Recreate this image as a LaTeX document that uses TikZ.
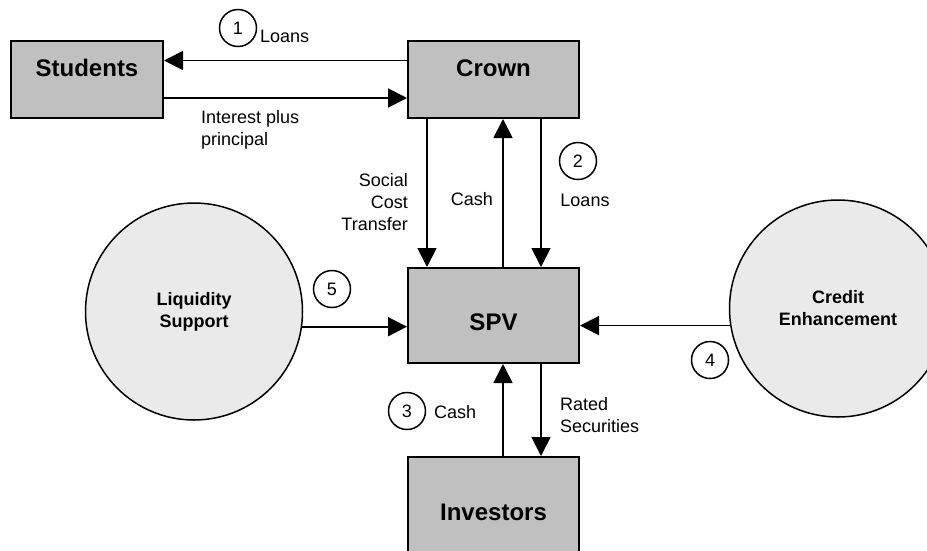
\documentclass[tikz,border=0pt]{standalone}
\usepackage{fontspec}
\setmainfont{Liberation Sans}
\usetikzlibrary{arrows.meta}
\definecolor{boxgray}{RGB}{192,192,192}
\definecolor{ballgray}{RGB}{234,234,234}

\begin{document}
\begin{tikzpicture}[
    x = 1pt,
    y = -1pt,
    >={Triangle[length=19pt, width=19pt]},
    party/.style = {draw=black, fill=boxgray, line width=2pt,
              minimum width=171pt, inner sep=0pt,
              font=\fontsize{24}{28}\selectfont\bfseries},
    pool/.style = {circle, draw=black, fill=ballgray, line width=1.5pt,
              minimum size=217pt, inner sep=0pt, align=center,
              font=\fontsize{18}{22}\selectfont\bfseries},
    tag/.style = {circle, draw=black, line width=1.5pt, minimum size=37pt,
              inner sep=0pt, font=\fontsize{18}{22}\selectfont},
    flow/.style = {inner sep=0pt, font=\fontsize{18}{22}\selectfont},
    ]

\useasboundingbox (0,0) rectangle (927,550);

\node[party, minimum width=152pt, minimum height=77pt,
      text height=17pt, text depth=23pt] (students) at (87,79.5){Students};
\node[party, minimum height=77pt,
      text height=17pt, text depth=23pt] (crown) at (493.5,79.5){Crown};
\node[party, minimum height=95pt,
      text height=30pt, text depth=0pt] (spv) at (493.5,315.5){SPV};
\node[party, minimum height=110pt] (investors) at (493.5,512){Investors};

\node[pool] (liquidity) at (194,311.5){Liquidity\\Support};
\node[pool] (credit) at (838,308.5){Credit\\Enhancement};

\draw [->, black, line width=1.8pt] ([yshift=19pt]crown.west) -- ([yshift=19pt]students.east);
\draw [->, black, line width=1.8pt] ([yshift=-18.5pt]students.east) -- ([yshift=-18.5pt]crown.west);
\draw [->, black, line width=1.8pt] ([xshift=-66.5pt]crown.south) -- ([xshift=-66.5pt]spv.north);
\draw [->, black, line width=1.8pt] ([xshift=9.5pt]spv.north) -- ([xshift=9.5pt]crown.south);
\draw [->, black, line width=1.8pt] ([xshift=47.5pt]crown.south) -- ([xshift=47.5pt]spv.north);
\draw [->, black, line width=1.8pt] ([xshift=9.5pt]investors.north) -- ([xshift=9.5pt]spv.south);
\draw [->, black, line width=1.8pt] ([xshift=47.5pt]spv.south) -- ([xshift=47.5pt]investors.north);
\draw [->, black, line width=1.8pt] (liquidity.-8) -- (liquidity.-8 -| spv.west);
\draw [->, black, line width=1.8pt] (credit.189) -- (credit.189 -| spv.east);

\node[tag] (tag_1) at (238,28){1};
\node[flow, anchor=west] (loans_1) at (260,36){Loans};
\node[flow, anchor=west, align=left] (repay) at (201,130){Interest plus\\principal};
\node[flow, anchor=east, align=right] (transfer) at (408,202){Social\\Cost\\Transfer};
\node[flow] (cash_up) at (472,199){Cash};
\node[tag] (tag_2) at (578,161){2};
\node[flow] (loans_2) at (585,200){Loans};
\node[tag] (tag_5) at (332,289){5};
\node[tag] (tag_4) at (710,360){4};
\node[tag] (tag_3) at (407,411){3};
\node[flow, anchor=west] (cash_in) at (434,412){Cash};
\node[flow, anchor=west, align=left] (rated) at (560,415){Rated\\Securities};

\end{tikzpicture}
\end{document}
